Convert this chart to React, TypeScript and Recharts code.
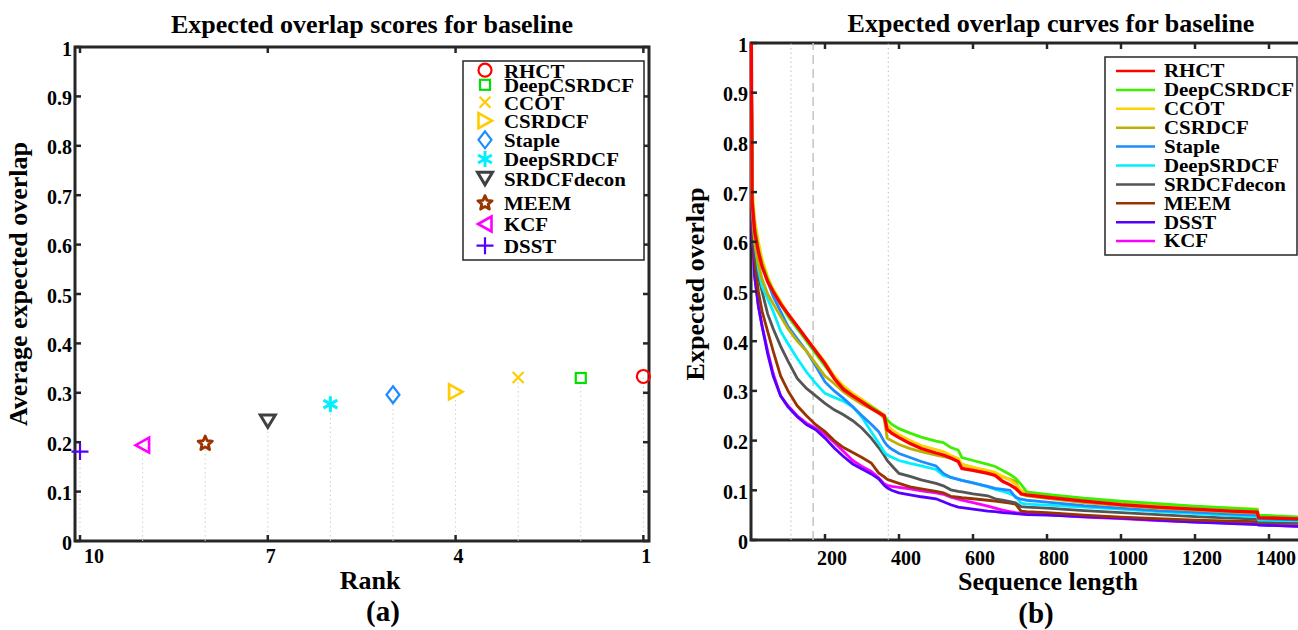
import React from "react";
import {
  ScatterChart,
  Scatter,
  LineChart,
  Line,
  XAxis,
  YAxis,
  ReferenceLine,
  ReferenceArea,
} from "recharts";

const FONT = '"Liberation Serif", "Times New Roman", serif';
const INK = "#262626";

// ---- (a) expected overlap scores ----
const trackers = ["RHCT", "DeepCSRDCF", "CCOT", "CSRDCF", "Staple", "DeepSRDCF", "SRDCFdecon", "MEEM", "KCF", "DSST"];
const ranks = [1, 2, 3, 4, 5, 6, 7, 8, 9, 10];
const avgOverlap = [0.333, 0.33, 0.331, 0.302, 0.296, 0.277, 0.243, 0.199, 0.194, 0.181];
const rankTicks = [10, 7, 4, 1];
const overlapTicks = [0, 0.1, 0.2, 0.3, 0.4, 0.5, 0.6, 0.7, 0.8, 0.9, 1];

// ---- (b) expected overlap curves ----
const seqLengths = [1, 3, 10, 20, 30, 45, 60, 80, 100, 125, 150, 175, 200, 225, 250, 275, 300, 325, 345, 360, 368, 380, 400, 430, 460, 500, 520, 540, 560, 570, 600, 640, 660, 680, 700, 715, 730, 745, 800, 900, 1000, 1100, 1200, 1300, 1368, 1372, 1500];
const eoRHCT = [1.0, 0.68, 0.62, 0.58, 0.55, 0.52, 0.5, 0.475, 0.455, 0.43, 0.405, 0.38, 0.355, 0.325, 0.303, 0.29, 0.278, 0.265, 0.256, 0.25, 0.222, 0.215, 0.206, 0.194, 0.184, 0.175, 0.171, 0.165, 0.158, 0.144, 0.14, 0.134, 0.13, 0.118, 0.111, 0.104, 0.093, 0.091, 0.086, 0.078, 0.071, 0.066, 0.062, 0.058, 0.056, 0.045, 0.042];
const eoDeepCSRDCF = [1.0, 0.69, 0.63, 0.585, 0.555, 0.525, 0.5, 0.475, 0.45, 0.425, 0.4, 0.375, 0.35, 0.325, 0.305, 0.29, 0.278, 0.268, 0.258, 0.25, 0.242, 0.233, 0.224, 0.215, 0.207, 0.199, 0.196, 0.186, 0.181, 0.166, 0.16, 0.152, 0.148, 0.14, 0.132, 0.124, 0.112, 0.097, 0.092, 0.084, 0.078, 0.073, 0.068, 0.064, 0.061, 0.05, 0.046];
const eoCCOT = [1.0, 0.71, 0.645, 0.6, 0.565, 0.53, 0.505, 0.48, 0.455, 0.43, 0.405, 0.382, 0.358, 0.33, 0.31, 0.295, 0.283, 0.27, 0.26, 0.252, 0.232, 0.222, 0.212, 0.2, 0.19, 0.182, 0.178, 0.17, 0.164, 0.152, 0.146, 0.14, 0.136, 0.128, 0.121, 0.112, 0.1, 0.095, 0.09, 0.082, 0.076, 0.071, 0.067, 0.064, 0.062, 0.049, 0.045];
const eoCSRDCF = [1.0, 0.67, 0.6, 0.555, 0.525, 0.495, 0.475, 0.45, 0.425, 0.4, 0.38, 0.355, 0.33, 0.315, 0.298, 0.285, 0.273, 0.264, 0.256, 0.245, 0.205, 0.2, 0.192, 0.184, 0.178, 0.171, 0.168, 0.164, 0.16, 0.152, 0.146, 0.136, 0.131, 0.127, 0.122, 0.118, 0.092, 0.089, 0.084, 0.075, 0.069, 0.064, 0.06, 0.056, 0.054, 0.046, 0.043];
const eoStaple = [1.0, 0.69, 0.625, 0.585, 0.555, 0.52, 0.49, 0.46, 0.43, 0.405, 0.38, 0.35, 0.318, 0.3, 0.285, 0.268, 0.25, 0.233, 0.218, 0.198, 0.19, 0.183, 0.174, 0.166, 0.158, 0.149, 0.134, 0.126, 0.122, 0.12, 0.115, 0.108, 0.104, 0.102, 0.1, 0.086, 0.082, 0.08, 0.076, 0.069, 0.064, 0.059, 0.056, 0.052, 0.05, 0.043, 0.04];
const eoDeepSRDCF = [1.0, 0.68, 0.6, 0.545, 0.51, 0.485, 0.46, 0.42, 0.395, 0.365, 0.338, 0.315, 0.295, 0.287, 0.279, 0.268, 0.247, 0.218, 0.195, 0.177, 0.171, 0.167, 0.16, 0.154, 0.149, 0.142, 0.13, 0.126, 0.122, 0.12, 0.115, 0.107, 0.102, 0.098, 0.093, 0.088, 0.074, 0.072, 0.07, 0.066, 0.062, 0.057, 0.053, 0.049, 0.047, 0.04, 0.038];
const eoSRDCFdecon = [1.0, 0.66, 0.58, 0.53, 0.5, 0.455, 0.425, 0.39, 0.36, 0.325, 0.305, 0.29, 0.275, 0.262, 0.252, 0.24, 0.225, 0.205, 0.186, 0.17, 0.16, 0.15, 0.134, 0.128, 0.121, 0.114, 0.109, 0.101, 0.098, 0.097, 0.093, 0.089, 0.083, 0.08, 0.077, 0.075, 0.067, 0.066, 0.064, 0.059, 0.055, 0.051, 0.047, 0.044, 0.042, 0.036, 0.034];
const eoMEEM = [1.0, 0.65, 0.56, 0.5, 0.46, 0.42, 0.38, 0.33, 0.3, 0.27, 0.25, 0.232, 0.218, 0.2, 0.186, 0.176, 0.166, 0.155, 0.135, 0.127, 0.122, 0.119, 0.114, 0.107, 0.103, 0.098, 0.095, 0.088, 0.086, 0.085, 0.083, 0.08, 0.078, 0.076, 0.074, 0.072, 0.058, 0.057, 0.055, 0.05, 0.046, 0.043, 0.04, 0.038, 0.037, 0.035, 0.033];
const eoDSST = [1.0, 0.63, 0.53, 0.47, 0.43, 0.375, 0.33, 0.29, 0.268, 0.248, 0.232, 0.222, 0.205, 0.185, 0.168, 0.153, 0.143, 0.133, 0.123, 0.11, 0.105, 0.1, 0.095, 0.091, 0.087, 0.083, 0.077, 0.071, 0.066, 0.065, 0.062, 0.058, 0.057, 0.055, 0.054, 0.053, 0.052, 0.051, 0.05, 0.047, 0.044, 0.04, 0.036, 0.033, 0.031, 0.03, 0.027];
const eoKCF = [1.0, 0.63, 0.53, 0.47, 0.43, 0.38, 0.335, 0.29, 0.27, 0.25, 0.235, 0.225, 0.213, 0.196, 0.178, 0.16, 0.148, 0.138, 0.125, 0.113, 0.11, 0.108, 0.106, 0.103, 0.099, 0.095, 0.092, 0.086, 0.082, 0.08, 0.075, 0.068, 0.064, 0.06, 0.057, 0.055, 0.054, 0.053, 0.051, 0.046, 0.043, 0.039, 0.036, 0.034, 0.032, 0.031, 0.027];
const lengthTicks = [200, 400, 600, 800, 1000, 1200, 1400];
const intervalBounds = [108, 371];
const peakLength = 168;

const curves = [
  { name: "RHCT", values: eoRHCT, color: "#ff0000", width: 3.3 },
  { name: "DeepCSRDCF", values: eoDeepCSRDCF, color: "#3cf000", width: 2.8 },
  { name: "CCOT", values: eoCCOT, color: "#ffd200", width: 2.8 },
  { name: "CSRDCF", values: eoCSRDCF, color: "#bdb000", width: 2.8 },
  { name: "Staple", values: eoStaple, color: "#1e8cff", width: 2.8 },
  { name: "DeepSRDCF", values: eoDeepSRDCF, color: "#00f0ff", width: 2.8 },
  { name: "SRDCFdecon", values: eoSRDCFdecon, color: "#555555", width: 2.8 },
  { name: "MEEM", values: eoMEEM, color: "#993300", width: 2.8 },
  { name: "DSST", values: eoDSST, color: "#5500ff", width: 2.8 },
  { name: "KCF", values: eoKCF, color: "#ff00ff", width: 2.8 },
];

const curveRows = seqLengths.map((len, i) => {
  const row: Record<string, number> = { len };
  curves.forEach((c) => (row[c.name] = c.values[i]));
  return row;
});

const markerStyle: Record<string, { kind: string; color: string }> = {
  RHCT: { kind: "circle", color: "#ff0000" },
  DeepCSRDCF: { kind: "square", color: "#00e000" },
  CCOT: { kind: "x", color: "#ffcc00" },
  CSRDCF: { kind: "tright", color: "#ffcc00" },
  Staple: { kind: "diamond", color: "#1e8cff" },
  DeepSRDCF: { kind: "asterisk", color: "#00f0ff" },
  SRDCFdecon: { kind: "tdown", color: "#404040" },
  MEEM: { kind: "star", color: "#993300" },
  KCF: { kind: "tleft", color: "#ff00ff" },
  DSST: { kind: "plus", color: "#5500ff" },
};

function Marker({ kind, color, cx, cy }: { kind: string; color: string; cx: number; cy: number }) {
  const common = { fill: "none", stroke: color, strokeWidth: 2.2, strokeLinejoin: "miter" as const };
  switch (kind) {
    case "circle":
      return <circle cx={cx} cy={cy} r={6.5} {...common} />;
    case "square":
      return <rect x={cx - 5} y={cy - 5} width={10} height={10} {...common} />;
    case "x":
      return <path d={`M${cx - 5.5},${cy - 5.5}L${cx + 5.5},${cy + 5.5}M${cx - 5.5},${cy + 5.5}L${cx + 5.5},${cy - 5.5}`} {...common} />;
    case "tright":
      return <path d={`M${cx - 6.5},${cy - 7.5}L${cx + 7},${cy}L${cx - 6.5},${cy + 7.5}Z`} {...common} strokeWidth={2.6} />;
    case "tleft":
      return <path d={`M${cx + 6.5},${cy - 7.5}L${cx - 7},${cy}L${cx + 6.5},${cy + 7.5}Z`} {...common} strokeWidth={2.6} />;
    case "diamond":
      return <path d={`M${cx},${cy - 8.5}L${cx + 6.5},${cy}L${cx},${cy + 8.5}L${cx - 6.5},${cy}Z`} {...common} />;
    case "tdown":
      return <path d={`M${cx - 7.5},${cy - 6}L${cx + 7.5},${cy - 6}L${cx},${cy + 6.5}Z`} {...common} strokeWidth={3} />;
    case "asterisk": {
      const r = 8;
      const a = r * Math.cos(Math.PI / 6);
      const b = r * Math.sin(Math.PI / 6);
      return (
        <path
          d={`M${cx},${cy - r}L${cx},${cy + r}M${cx - a},${cy - b}L${cx + a},${cy + b}M${cx - a},${cy + b}L${cx + a},${cy - b}`}
          {...common}
          strokeWidth={3}
        />
      );
    }
    case "star": {
      const pts: string[] = [];
      for (let k = 0; k < 10; k++) {
        const rr = k % 2 === 0 ? 7.5 : 3.4;
        const ang = -Math.PI / 2 + (k * Math.PI) / 5;
        pts.push(`${cx + rr * Math.cos(ang)},${cy + 0.8 + rr * Math.sin(ang)}`);
      }
      return <polygon points={pts.join(" ")} {...common} strokeWidth={2.8} strokeLinejoin="round" />;
    }
    case "plus":
    default:
      return <path d={`M${cx - 8.5},${cy}L${cx + 8.5},${cy}M${cx},${cy - 8.5}L${cx},${cy + 8.5}`} {...common} />;
  }
}

const fmtOverlap = (v: number) => (v === 0 ? "0" : v === 1 ? "1" : v.toFixed(1));

function makeXTick(top: number, dy: number, shift: (v: number) => number) {
  return (p: any) => {
    const { x, y, payload } = p;
    return (
      <g>
        <line x1={x} y1={y} x2={x} y2={y - 6} stroke={INK} strokeWidth={2.5} />
        <line x1={x} y1={top} x2={x} y2={top + 6} stroke={INK} strokeWidth={2.5} />
        <text x={x + shift(payload.value)} y={y + dy} textAnchor="middle" fontFamily={FONT} fontWeight="bold" fontSize={20} fill="#000">
          {payload.value}
        </text>
      </g>
    );
  };
}

function makeYTick(right: number) {
  return (p: any) => {
    const { x, y, payload } = p;
    return (
      <g>
        <line x1={x} y1={y} x2={x + 6} y2={y} stroke={INK} strokeWidth={2.5} />
        <line x1={right} y1={y} x2={right - 6} y2={y} stroke={INK} strokeWidth={2.5} />
        <text x={x - 3} y={y + 8.5} textAnchor="end" fontFamily={FONT} fontWeight="bold" fontSize={20} fill="#000">
          {fmtOverlap(payload.value)}
        </text>
      </g>
    );
  };
}

const leftLegendY = [71.2, 85.8, 103.3, 121.7, 140.8, 160, 179.3, 203.3, 225, 246.7];

function ScoresChart() {
  return (
    <ScatterChart width={660} height={630} margin={{ top: 47, right: 11, bottom: 59, left: 15 }}>
      <XAxis
        type="number"
        dataKey="rank"
        domain={[0.91, 10.08]}
        reversed
        ticks={rankTicks}
        interval={0}
        height={30}
        tickSize={0}
        tickMargin={0}
        axisLine={false}
        tickLine={false}
        tick={makeXTick(47, 22, (v) => (v === 10 ? 14 : 3))}
      />
      <YAxis
        type="number"
        dataKey="score"
        domain={[0, 1]}
        ticks={overlapTicks}
        interval={0}
        width={60}
        tickSize={0}
        tickMargin={0}
        axisLine={false}
        tickLine={false}
        tick={makeYTick(649)}
      />
      {ranks.map((r, i) => (
        <ReferenceLine
          key={"stem" + r}
          segment={[{ x: r, y: 0 }, { x: r, y: avgOverlap[i] }]}
          stroke="#cfcfcf"
          strokeWidth={1}
          strokeDasharray="1.5 3"
        />
      ))}
      <ReferenceArea x1={0.91} x2={10.08} y1={0} y2={1} fill="none" stroke={INK} strokeWidth={3} ifOverflow="visible" />
      {trackers.map((t, i) => (
        <Scatter
          key={t}
          name={t}
          data={[{ rank: ranks[i], score: avgOverlap[i] }]}
          isAnimationActive={false}
          shape={(p: any) => <Marker kind={markerStyle[t].kind} color={markerStyle[t].color} cx={p.cx} cy={p.cy} />}
        />
      ))}
    </ScatterChart>
  );
}

function CurvesChart() {
  return (
    <LineChart width={640} height={630} data={curveRows} margin={{ top: 43, right: 14, bottom: 60, left: 11 }}>
      <XAxis
        type="number"
        dataKey="len"
        domain={[0, 1500]}
        ticks={lengthTicks}
        interval={0}
        height={30}
        tickSize={0}
        tickMargin={0}
        axisLine={false}
        tickLine={false}
        tick={makeXTick(43, 25, () => 7)}
      />
      <YAxis
        type="number"
        domain={[0, 1]}
        ticks={overlapTicks}
        interval={0}
        width={60}
        tickSize={0}
        tickMargin={0}
        axisLine={false}
        tickLine={false}
        tick={makeYTick(626)}
      />
      {intervalBounds.map((b) => (
        <ReferenceLine key={"b" + b} x={b} stroke="#bdbdbd" strokeWidth={1} strokeDasharray="1.5 3" />
      ))}
      <ReferenceLine x={peakLength} stroke="#c4c4c4" strokeWidth={1.5} strokeDasharray="9 5" />
      {[...curves].reverse().map((c) => (
        <Line
          key={c.name}
          type="linear"
          dataKey={c.name}
          stroke={c.color}
          strokeWidth={c.width}
          dot={false}
          activeDot={false}
          isAnimationActive={false}
        />
      ))}
      <ReferenceArea x1={0} x2={1500} y1={0} y2={1} fill="none" stroke={INK} strokeWidth={3} ifOverflow="visible" />
    </LineChart>
  );
}

function Overlay() {
  const txt = { fontFamily: FONT, fontWeight: "bold" as const, fill: "#000" };
  return (
    <svg width={1298} height={630} style={{ position: "absolute", left: 0, top: 0, pointerEvents: "none" }}>
      <text x={372} y={33} textAnchor="middle" fontSize={26} {...txt}>Expected overlap scores for baseline</text>
      <text x={1051} y={31.5} textAnchor="middle" fontSize={26} {...txt}>Expected overlap curves for baseline</text>
      <text x={370} y={589} textAnchor="middle" fontSize={26} {...txt}>Rank</text>
      <text x={383} y={621} textAnchor="middle" fontSize={29} {...txt}>(a)</text>
      <text x={1048} y={590} textAnchor="middle" fontSize={26} {...txt}>Sequence length</text>
      <text x={1036} y={623} textAnchor="middle" fontSize={29} {...txt}>(b)</text>
      <text transform="translate(27,284) rotate(-90)" textAnchor="middle" fontSize={26} {...txt}>Average expected overlap</text>
      <text transform="translate(704,284) rotate(-90)" textAnchor="middle" fontSize={26} {...txt}>Expected overlap</text>

      <rect x={463} y={61} width={181} height={199} fill="#fff" stroke={INK} strokeWidth={1.5} />
      {trackers.map((t, i) => (
        <g key={t}>
          <Marker kind={markerStyle[t].kind} color={markerStyle[t].color} cx={485} cy={leftLegendY[i] - 1} />
          <text transform={`translate(504,${leftLegendY[i] + 6.3}) scale(1.1,1)`} fontSize={19} {...txt}>{t}</text>
        </g>
      ))}

      <rect x={1105} y={57} width={192} height={198} fill="#fff" stroke={INK} strokeWidth={1.5} />
      {curves.map((c, i) => {
        const y = 71 + i * 18.9;
        return (
          <g key={c.name}>
            <line x1={1116} x2={1155} y1={y} y2={y} stroke={c.color} strokeWidth={2.5} />
            <text transform={`translate(1164,${y + 6.3}) scale(1.1,1)`} fontSize={19} {...txt}>{c.name}</text>
          </g>
        );
      })}
    </svg>
  );
}

export default function App() {
  return (
    <div style={{ position: "absolute", left: 0, top: 0, width: 1298, height: 630, overflow: "hidden", background: "#fff" }}>
      <div style={{ position: "absolute", left: 0, top: 0 }}>
        <ScoresChart />
      </div>
      <div style={{ position: "absolute", left: 680, top: 0 }}>
        <CurvesChart />
      </div>
      <Overlay />
    </div>
  );
}
